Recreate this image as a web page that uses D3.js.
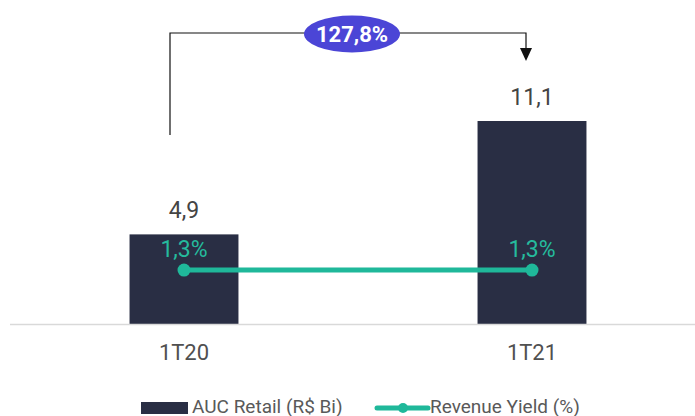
<!DOCTYPE html>
<html>
<head>
<meta charset="utf-8">
<script src="https://cdn.jsdelivr.net/npm/d3@7"></script>
<style>
  body { margin: 0; background: #fff; }
  svg { font-family: Roboto, "Noto Sans", sans-serif; }
</style>
</head>
<body>
<div id="chart"></div>
<script>
var categories = ["1T20", "1T21"];
var aucValues = [4.9, 11.1];
var yieldValues = [1.3, 1.3];
var aucLabels = ["4,9", "11,1"];
var yieldLabels = ["1,3%", "1,3%"];
var growthLabel = "127,8%";
var legendNames = ["AUC Retail (R$ Bi)", "Revenue Yield (%)"];

var width = 695, height = 416;
var barColor = "#292e44", lineColor = "#1fb89a";

var svg = d3.select("#chart").append("svg")
	.attr("width", width)
	.attr("height", height);

var x = d3.scaleBand().domain(categories).range([10, 706]).padding(0);
var barW = x.bandwidth() * 0.313;
var cx = function (d) { return x(d) + x.bandwidth() / 2; };

var y = d3.scaleLinear().domain([0, 11.1]).range([324, 121]);
var y2 = d3.scaleLinear().domain([0, 2]).range([324, 241]);

// bars
svg.selectAll(".bar").data(categories).enter().append("rect")
	.attr("class", "bar")
	.attr("x", function (d) { return cx(d) - barW / 2; })
	.attr("y", function (d, i) { return y(aucValues[i]); })
	.attr("width", barW)
	.attr("height", function (d, i) { return y(0) - y(aucValues[i]); })
	.attr("fill", barColor);

// baseline
svg.append("line")
	.attr("x1", 10).attr("x2", width)
	.attr("y1", 324.5).attr("y2", 324.5)
	.attr("stroke", "#d9d9d9").attr("stroke-width", 1.5);

// bar value labels
svg.selectAll(".val").data(categories).enter().append("text")
	.attr("x", cx)
	.attr("y", function (d, i) { return y(aucValues[i]) - 16; })
	.attr("text-anchor", "middle")
	.attr("font-size", 23)
	.attr("fill", "#444")
	.text(function (d, i) { return aucLabels[i]; });

// category labels
svg.selectAll(".cat").data(categories).enter().append("text")
	.attr("x", cx)
	.attr("y", 360)
	.attr("text-anchor", "middle")
	.attr("font-size", 22)
	.attr("fill", "#505050")
	.text(function (d) { return d; });

// yield line
var line = d3.line()
	.x(function (d, i) { return cx(categories[i]); })
	.y(function (d) { return y2(d); });

svg.append("path")
	.datum(yieldValues)
	.attr("d", line)
	.attr("fill", "none")
	.attr("stroke", lineColor)
	.attr("stroke-width", 5);

svg.selectAll(".dot").data(yieldValues).enter().append("circle")
	.attr("cx", function (d, i) { return cx(categories[i]); })
	.attr("cy", function (d) { return y2(d); })
	.attr("r", 6.5)
	.attr("fill", lineColor);

svg.selectAll(".ylab").data(yieldValues).enter().append("text")
	.attr("x", function (d, i) { return cx(categories[i]); })
	.attr("y", function (d) { return y2(d) - 13; })
	.attr("text-anchor", "middle")
	.attr("font-size", 23)
	.attr("fill", "#25bb9d")
	.text(function (d, i) { return yieldLabels[i]; });

// growth arrow
var ax0 = cx(categories[0]) - 14, ax1 = cx(categories[1]) - 6, topY = 33;
svg.append("path")
	.attr("d", "M" + ax0 + "," + 135 + "V" + topY + "H" + ax1 + "V" + 50)
	.attr("fill", "none")
	.attr("stroke", "#111")
	.attr("stroke-width", 1.2);
svg.append("path")
	.attr("d", "M" + (ax1 - 6) + ",48L" + (ax1 + 6) + ",48L" + ax1 + ",61Z")
	.attr("fill", "#111");

var ex = (ax0 + ax1) / 2 + 4;
svg.append("ellipse")
	.attr("cx", ex).attr("cy", topY + 1)
	.attr("rx", 48).attr("ry", 18.5)
	.attr("fill", "#4b45d6");
svg.append("text")
	.attr("x", ex).attr("y", topY + 8.5)
	.attr("text-anchor", "middle")
	.attr("font-size", 22)
	.attr("font-weight", "bold")
	.attr("fill", "#fff")
	.text(growthLabel);

// legend
var leg = svg.append("g");
leg.append("rect")
	.attr("x", 141).attr("y", 402).attr("width", 47).attr("height", 12)
	.attr("fill", barColor);
leg.append("text")
	.attr("x", 192).attr("y", 413)
	.attr("font-size", 19).attr("fill", "#595959")
	.text(legendNames[0]);
leg.append("line")
	.attr("x1", 377).attr("x2", 428).attr("y1", 408).attr("y2", 408)
	.attr("stroke", lineColor).attr("stroke-width", 5).attr("stroke-linecap", "round");
leg.append("circle")
	.attr("cx", 403).attr("cy", 408).attr("r", 5)
	.attr("fill", lineColor);
leg.append("text")
	.attr("x", 430).attr("y", 413)
	.attr("font-size", 19).attr("fill", "#595959")
	.text(legendNames[1]);
</script>
</body>
</html>
